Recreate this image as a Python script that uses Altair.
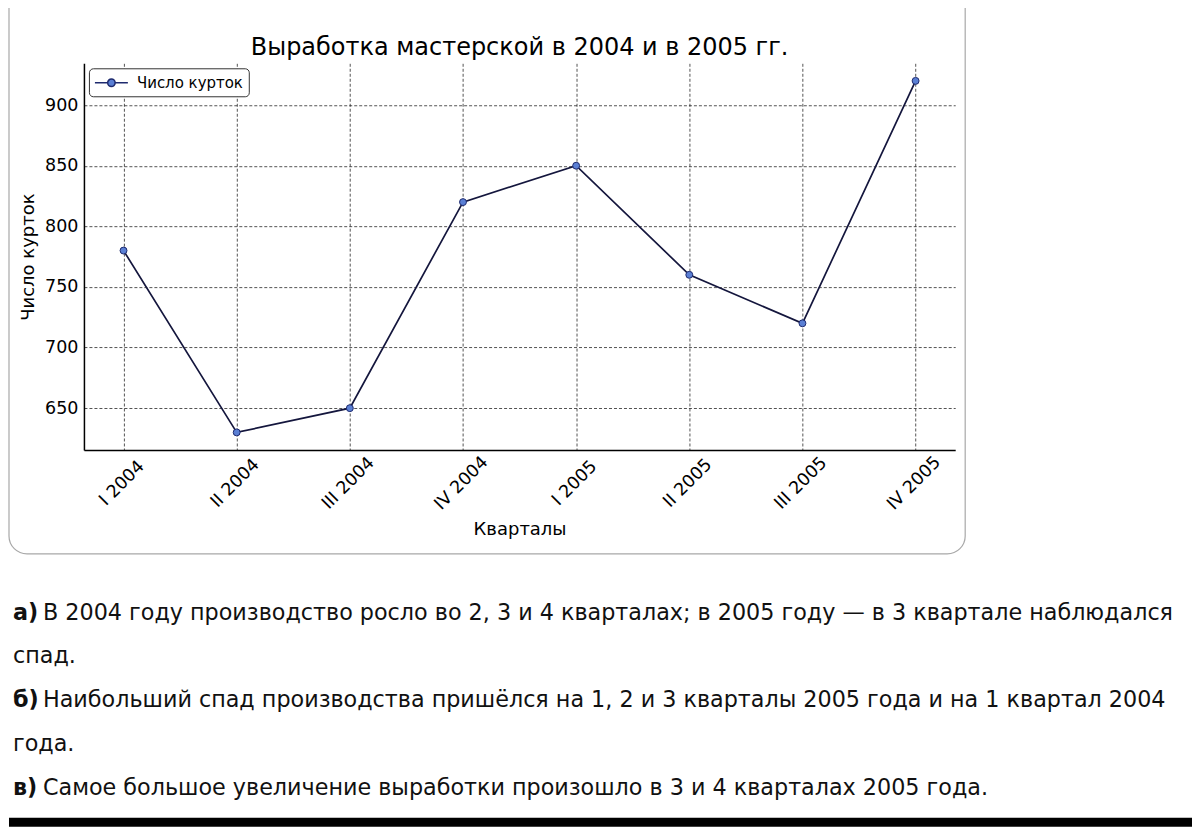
import altair as alt
import pandas as pd

# ---------------- data ----------------
quarters = ["I 2004", "II 2004", "III 2004", "IV 2004",
            "I 2005", "II 2005", "III 2005", "IV 2005"]
jackets = [780, 630, 650, 820, 850, 760, 720, 920]
series_name = "Число курток"
y_ticks = [650, 700, 750, 800, 850, 900]
chart_title = "Выработка мастерской в 2004 и в 2005 гг."
x_title = "Кварталы"
y_title = "Число курток"

answer_prefix = ["а)", "", "б)", "", "в)"]
answer_body = [
    "В 2004 году производство росло во 2, 3 и 4 кварталах; в 2005 году — в 3 квартале наблюдался",
    "спад.",
    "Наибольший спад производства пришёлся на 1, 2 и 3 кварталы 2005 года и на 1 квартал 2004",
    "года.",
    "Самое большое увеличение выработки произошло в 3 и 4 кварталах 2005 года.",
]

# ---------------- styles ----------------
W, H = 872, 387
FONT = "DejaVu Sans"
TEXT_FONT = "DejaVu Sans"
TEXT_SIZE = 22.3
LINE_COLOR = "#14163d"
MARK_FILL = "#5a7fd4"
MARK_EDGE = "#1e2a6e"
GRID = dict(grid=True, gridColor="#111111", gridDash=[3, 2], gridWidth=0.8, gridOpacity=0.9)

df = pd.DataFrame({"quarter": quarters, "jackets": jackets, "series": series_name})

x_enc = alt.X(
    "quarter:O", sort=quarters,
    scale=alt.Scale(type="point", padding=0.35),
    axis=alt.Axis(title=x_title, labelAngle=-45, labelAlign="center", labelBaseline="middle",
                  labelPadding=33, labelOffset=-2, ticks=False, tickSize=0,
                  domainColor="black", domainWidth=1.5,
                  labelFont=FONT, labelFontSize=17.5, labelColor="black",
                  titleFont=FONT, titleFontSize=18, titleFontWeight="normal",
                  titleColor="black", titlePadding=8, **GRID),
)
y_enc = alt.Y(
    "jackets:Q",
    scale=alt.Scale(domain=[615.5, 934.5], nice=False, zero=False),
    axis=alt.Axis(values=y_ticks, title=y_title, ticks=False, tickSize=0, labelPadding=6,
                  domainColor="black", domainWidth=1.5,
                  labelFont=FONT, labelFontSize=17.5, labelColor="black",
                  titleFont=FONT, titleFontSize=18, titleFontWeight="normal",
                  titleColor="black", titlePadding=7, **GRID),
)

line = alt.Chart(df).mark_line(color=LINE_COLOR, strokeWidth=1.7).encode(x=x_enc, y=y_enc)

# legend glyph: line with a circle marker, drawn wider than its layout box
legend_symbol = ("M-1,0L0.5,0M1.38,0L2.88,0M1.38,0A0.44,0.44,0,1,1,0.5,0"
                 "A0.44,0.44,0,1,1,1.38,0Z")
points = alt.Chart(df).mark_point(filled=True, size=48, stroke=MARK_EDGE, strokeWidth=1,
                                  opacity=1).encode(
    x=x_enc, y=y_enc,
    fill=alt.Fill("series:N", scale=alt.Scale(range=[MARK_FILL]),
                  legend=alt.Legend(title=None, orient="top-left", offset=5, padding=5,
                                    strokeColor="#333333", cornerRadius=4, fillColor="white",
                                    labelFont=FONT, labelFontSize=15, labelColor="black",
                                    labelOffset=24, symbolType=legend_symbol, symbolSize=289,
                                    symbolStrokeColor=MARK_EDGE, symbolStrokeWidth=1.5)),
)

one = alt.Data(values=[{"t": chart_title}])
box = alt.Chart(one).mark_rect(fillOpacity=0, stroke="#a8a8a8", strokeWidth=1.2,
                               cornerRadius=18).encode(
    x=alt.value(-75), x2=alt.value(882), y=alt.value(-90), y2=alt.value(491))
title = alt.Chart(one).mark_text(font=FONT, fontSize=24, color="black", align="center",
                                 baseline="alphabetic").encode(
    text="t:N", x=alt.value(W / 2), y=alt.value(-8))

top = alt.layer(box, title, line, points).properties(width=W, height=H)

# ---------------- answers ----------------
ans = pd.DataFrame({"line": list(range(len(answer_body))), "prefix": answer_prefix,
                    "body": answer_body,
                    "indent": [p != "" for p in answer_prefix]})
y_ans = alt.Y("line:Q", scale=alt.Scale(domain=[-0.5, 4.5], reverse=True, nice=False, zero=False),
              axis=None)
TW, TH = 1100, 218.75
base = alt.Chart(ans)
pref = base.transform_filter("datum.prefix != ''").mark_text(
    font=TEXT_FONT, fontSize=TEXT_SIZE, fontWeight="bold", color="#111111", align="left",
    baseline="middle").encode(text="prefix:N", y=y_ans, x=alt.value(-71))
body_ind = base.transform_filter("datum.indent").mark_text(
    font=TEXT_FONT, fontSize=TEXT_SIZE, color="#111111", align="left", baseline="middle").encode(
    text="body:N", y=y_ans, x=alt.value(-41))
body_plain = base.transform_filter("!datum.indent").mark_text(
    font=TEXT_FONT, fontSize=TEXT_SIZE, color="#111111", align="left", baseline="middle").encode(
    text="body:N", y=y_ans, x=alt.value(-71))
bar = alt.Chart(alt.Data(values=[{"a": 1}])).mark_rect(color="black").encode(
    x=alt.value(-75), x2=alt.value(1109), y=alt.value(227), y2=alt.value(236))

bottom = alt.layer(pref, body_ind, body_plain, bar).properties(width=TW, height=TH)

chart = alt.vconcat(top, bottom, spacing=36).properties(
    padding={"left": 0, "top": -36, "right": 0, "bottom": 0}
).configure(font=FONT, view=alt.ViewConfig(stroke="transparent", strokeWidth=0))

chart.save("out.html", embed_options={"renderer": "svg", "actions": False})
